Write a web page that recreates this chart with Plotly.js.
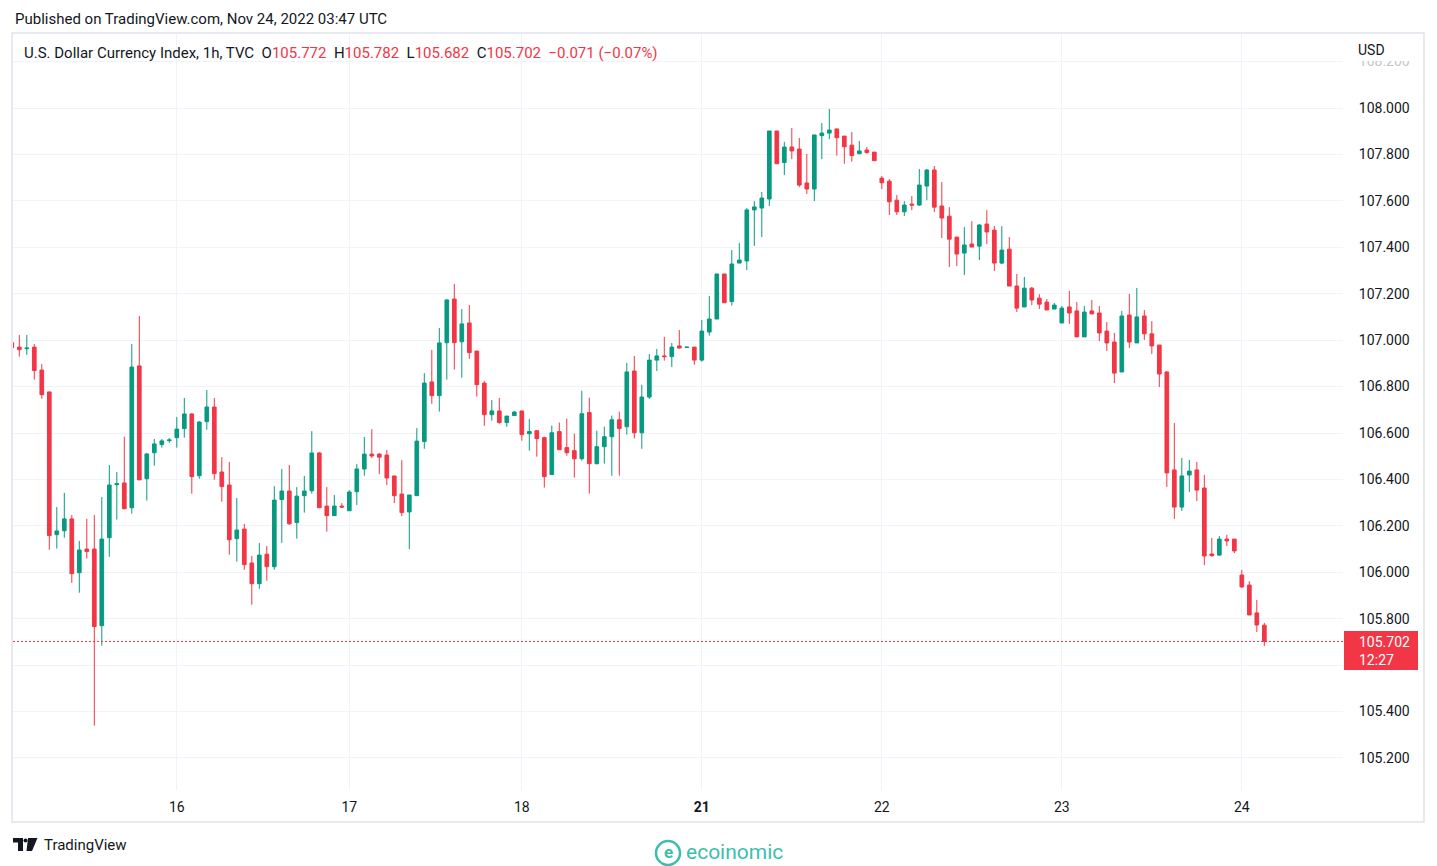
<!DOCTYPE html>
<html>
<head>
<meta charset="utf-8">
<script src="https://cdn.plot.ly/plotly-3.0.1.min.js"></script>
<style>
html,body{margin:0;padding:0;background:#ffffff;}
#chart{width:1437px;height:866px;}
</style>
</head>
<body>
<div id="chart"></div>
<script>
// ---- DATA (hourly bars, U.S. Dollar Currency Index, TVC, 1h) ----
const firstBar = -1;   // index of the first (partly hidden) bar
const openP = [
106.989,106.970,106.963,106.970,106.871,106.777,106.162,106.179,106.230,105.998,
106.100,106.100,105.770,106.149,106.377,106.385,106.278,106.889,106.403,106.515,
106.550,106.567,106.580,106.619,106.682,106.416,106.649,106.712,106.432,106.376,
106.145,106.186,106.040,105.951,106.078,106.024,106.313,106.350,106.214,106.330,
106.351,106.514,106.285,106.244,106.285,106.265,106.347,106.445,106.509,106.509,
106.505,106.415,106.337,106.260,106.330,106.563,106.820,106.761,106.989,107.177,
106.993,107.074,106.953,106.815,106.679,106.695,106.645,106.675,106.695,106.597,
106.610,106.580,106.421,106.606,106.537,106.524,106.489,106.688,106.468,106.541,
106.584,106.657,106.627,106.867,106.601,106.755,106.914,106.932,106.929,106.975,
106.968,106.970,106.914,107.035,107.091,107.285,107.166,107.332,107.341,107.561,
107.569,107.608,107.901,107.765,107.832,107.823,107.677,107.651,107.881,107.892,
107.910,107.879,107.840,107.803,107.819,107.810,107.698,107.685,107.603,107.553,
107.586,107.582,107.664,107.733,107.578,107.534,107.444,107.375,107.414,107.405,
107.500,107.474,107.332,107.392,107.233,107.143,107.224,107.181,107.164,107.134,
107.074,107.143,107.126,107.014,107.126,107.117,107.039,106.992,106.863,107.108,
106.988,107.104,107.027,106.979,106.863,106.441,106.281,106.419,106.441,106.363,
106.079,106.074,106.143,106.143,105.988,105.945,105.825,105.772
];
const highP = [
106.995,107.022,107.022,106.983,106.897,106.777,106.281,106.342,106.247,106.135,
106.230,106.247,106.324,106.462,106.432,106.584,106.983,107.104,106.512,106.574,
106.574,106.578,106.669,106.751,106.686,106.652,106.785,106.751,106.496,106.475,
106.320,106.208,106.070,106.126,106.113,106.371,106.445,106.462,106.367,106.415,
106.608,106.518,106.367,106.333,106.298,106.354,106.466,106.583,106.617,106.514,
106.527,106.415,106.483,106.333,106.621,106.858,106.958,107.052,107.177,107.242,
107.134,107.151,106.953,106.824,106.742,106.751,106.673,106.695,106.695,106.660,
106.610,106.584,106.632,106.645,106.662,106.597,106.782,106.752,106.610,106.627,
106.675,106.692,106.902,106.932,106.808,106.940,106.962,107.014,106.988,107.044,
106.971,106.970,107.087,107.190,107.285,107.285,107.388,107.418,107.569,107.599,
107.638,107.901,107.901,107.854,107.914,107.871,107.802,107.884,107.935,107.996,
107.910,107.879,107.897,107.858,107.832,107.810,107.707,107.694,107.625,107.599,
107.621,107.737,107.737,107.750,107.681,107.573,107.444,107.487,107.513,107.500,
107.560,107.491,107.491,107.444,107.285,107.272,107.229,107.198,107.177,107.160,
107.147,107.212,107.164,107.147,107.173,107.147,107.078,107.031,107.126,107.199,
107.225,107.130,107.082,106.979,106.867,106.643,106.492,106.484,106.475,106.419,
106.148,106.156,106.161,106.143,106.010,105.962,105.881,105.782
];
const lowP = [
106.962,106.929,106.937,106.830,106.748,106.097,106.102,106.149,105.954,105.912,
106.059,105.339,105.684,106.067,106.227,106.271,106.253,106.398,106.309,106.459,
106.537,106.558,106.537,106.580,106.339,106.403,106.614,106.399,106.304,106.076,
106.046,106.011,105.860,105.929,105.964,106.011,106.127,106.204,106.145,106.257,
106.339,106.278,106.175,106.244,106.277,106.265,106.290,106.416,106.492,106.423,
106.376,106.298,106.242,106.100,106.330,106.532,106.726,106.692,106.830,106.873,
106.838,106.920,106.757,106.631,106.653,106.640,106.627,106.675,106.567,106.524,
106.498,106.365,106.421,106.528,106.502,106.408,106.481,106.339,106.464,106.468,
106.416,106.416,106.593,106.576,106.532,106.746,106.867,106.912,106.884,106.963,
106.967,106.894,106.907,107.019,107.091,107.161,107.149,107.332,107.302,107.406,
107.444,107.578,107.760,107.711,107.780,107.660,107.630,107.599,107.780,107.866,
107.795,107.760,107.769,107.803,107.803,107.773,107.651,107.539,107.539,107.535,
107.560,107.578,107.603,107.552,107.440,107.315,107.319,107.280,107.401,107.345,
107.414,107.298,107.328,107.233,107.121,107.143,107.151,107.134,107.130,107.134,
107.074,107.070,107.014,107.014,107.113,106.996,106.953,106.815,106.863,106.966,
106.988,107.001,106.940,106.798,106.367,106.230,106.264,106.346,106.307,106.031,
106.066,106.070,106.113,106.083,105.932,105.816,105.743,105.682
];
const closeP = [
106.968,106.959,106.966,106.869,106.765,106.158,106.178,106.230,105.994,106.096,
106.089,105.766,106.143,106.376,106.382,106.274,106.884,106.398,106.510,106.553,
106.566,106.570,106.617,106.682,106.412,106.647,106.712,106.425,106.369,106.140,
106.182,106.033,105.951,106.074,106.024,106.311,106.350,106.209,106.328,106.350,
106.514,106.278,106.244,106.285,106.281,106.346,106.445,106.509,106.501,106.496,
106.406,106.330,106.257,106.333,106.565,106.815,106.761,106.988,107.173,106.989,
107.070,106.946,106.808,106.679,106.695,106.645,106.673,106.690,106.593,106.606,
106.576,106.412,106.601,106.528,106.515,106.489,106.683,106.468,106.541,106.584,
106.657,106.619,106.863,106.601,106.755,106.914,106.932,106.929,106.970,106.966,
106.970,106.914,107.039,107.091,107.285,107.161,107.328,107.345,107.561,107.574,
107.612,107.901,107.760,107.832,107.815,107.668,107.651,107.884,107.892,107.905,
107.872,107.833,107.795,107.815,107.808,107.773,107.678,107.596,107.553,107.582,
107.582,107.668,107.733,107.573,107.526,107.435,107.371,107.410,107.401,107.496,
107.466,107.332,107.388,107.233,107.138,107.224,107.173,107.155,107.130,107.151,
107.138,107.117,107.014,107.121,107.113,107.031,106.988,106.858,107.104,106.992,
107.100,107.027,106.975,106.854,106.428,106.281,106.415,106.436,106.354,106.070,
106.072,106.143,106.135,106.092,105.937,105.816,105.773,105.702
];
const dayTickBars = [21, 44, 67, 91, 115, 139, 163];
const dayTickLabels = ['16', '17', '18', '<b>21</b>', '22', '23', '24'];
const priceTicks = [105.2,105.4,105.6,105.8,106.0,106.2,106.4,106.6,106.8,107.0,107.2,107.4,107.6,107.8,108.0,108.2];
const symbolName = 'U.S. Dollar Currency Index, 1h, TVC';
const publishedText = 'Published on TradingView.com, Nov 24, 2022 03:47 UTC';
const currencyLabel = 'USD';
const countdownLabel = '12:27';

// ---- STYLE / LAYOUT ----
const W = 1437, H = 866;
const M = {l: 13, r: 94, t: 34, b: 76};
const PW = W - M.l - M.r, PH = H - M.t - M.b;
const px = x => (x - M.l) / PW;
const py = y => (H - M.b - y) / PH;
const UP = '#089981', DOWN = '#f23645', TXT = '#131722', GRID = '#f0f3fa';
const FONT = 'Roboto, "Open Sans", sans-serif';
const TEAL = '#3dbdb0';

const xs = openP.map((_, i) => firstBar + i);
const n = closeP.length;
const last = n - 1;
const chg = closeP[last] - closeP[last - 1];
const pct = chg / closeP[last - 1] * 100;
const fmt = v => v.toFixed(3);
const neg = s => s.replace('-', '\u2212');
const red = s => '<span style="color:' + DOWN + '">' + s + '</span>';
const sp = '\u00a0\u00a0';
const header = symbolName + sp +
  'O' + red(fmt(openP[last])) + sp +
  'H' + red(fmt(highP[last])) + sp +
  'L' + red(fmt(lowP[last])) + sp +
  'C' + red(fmt(closeP[last])) + sp +
  red(neg(chg.toFixed(3)) + ' (' + neg(pct.toFixed(2)) + '%)');

const tickText = priceTicks.map(v => v === 108.2
  ? '<span style="color:#c3c6ce">' + v.toFixed(3) + '</span>' : v.toFixed(3));

const trace = {
  type: 'candlestick',
  x: xs, open: openP, high: highP, low: lowP, close: closeP,
  increasing: {line: {color: UP, width: 1}, fillcolor: UP},
  decreasing: {line: {color: DOWN, width: 1}, fillcolor: DOWN},
  whiskerwidth: 0,
  hoverinfo: 'skip',
  showlegend: false
};

// TradingView logo (drawn with shapes)
const tvPath = 'M ' + px(28) + ' ' + py(838) + ' L ' + px(37.5) + ' ' + py(838) +
  ' L ' + px(32) + ' ' + py(851) + ' L ' + px(26.5) + ' ' + py(851) + ' Z';

const layout = {
  width: W, height: H,
  margin: M,
  paper_bgcolor: '#ffffff', plot_bgcolor: '#ffffff',
  font: {family: FONT, size: 14, color: TXT},
  showlegend: false,
  dragmode: false,
  xaxis: {
    range: [-0.84, 176.49],
    tickmode: 'array', tickvals: dayTickBars, ticktext: dayTickLabels,
    showgrid: true, gridcolor: GRID, gridwidth: 1,
    zeroline: false, showline: false,
    ticks: 'outside', ticklen: 4, tickcolor: 'rgba(0,0,0,0)',
    tickfont: {family: FONT, size: 14, color: TXT},
    rangeslider: {visible: false},
    fixedrange: true
  },
  yaxis: {
    range: [105.0621, 108.3188],
    side: 'right',
    tickmode: 'array', tickvals: priceTicks, ticktext: tickText,
    showgrid: true, gridcolor: GRID, gridwidth: 1,
    zeroline: false, showline: false,
    ticks: 'outside', ticklen: 12, tickcolor: 'rgba(0,0,0,0)',
    tickfont: {family: FONT, size: 14, color: TXT},
    fixedrange: true
  },
  shapes: [
    // white cover that hides the top half of the faded 108.200 label (under the USD label)
    {type: 'rect', xref: 'paper', yref: 'paper', x0: px(1345), x1: px(1423), y0: py(61), y1: py(34),
     line: {width: 0}, fillcolor: '#ffffff', layer: 'above'},
    {type: 'rect', xref: 'paper', yref: 'paper', x0: px(12), x1: px(1424), y0: py(822), y1: py(33),
     line: {color: '#e0e3eb', width: 1.5}, fillcolor: 'rgba(0,0,0,0)', layer: 'above'},
    {type: 'line', xref: 'paper', yref: 'y', x0: 0, x1: 1, y0: closeP[last], y1: closeP[last],
     line: {color: DOWN, width: 1, dash: '2px,2px'}, layer: 'above'},
    {type: 'rect', xref: 'paper', yref: 'paper', x0: px(1344), x1: px(1418), y0: py(670), y1: py(631),
     line: {width: 0}, fillcolor: DOWN, layer: 'above'},
    // TradingView logo
    {type: 'rect', xref: 'paper', yref: 'paper', x0: px(13), x1: px(23), y0: py(842.5), y1: py(838),
     line: {width: 0}, fillcolor: TXT},
    {type: 'rect', xref: 'paper', yref: 'paper', x0: px(18), x1: px(23), y0: py(851), y1: py(838),
     line: {width: 0}, fillcolor: TXT},
    {type: 'circle', xref: 'paper', yref: 'paper', x0: px(23.5), x1: px(27.5), y0: py(842.5), y1: py(838.5),
     line: {width: 0}, fillcolor: TXT},
    {type: 'path', xref: 'paper', yref: 'paper', path: tvPath, line: {width: 0}, fillcolor: TXT},
    // ecoinomic icon
    {type: 'circle', xref: 'paper', yref: 'paper', x0: px(656), x1: px(680), y0: py(865), y1: py(841),
     line: {color: TEAL, width: 2.5}, fillcolor: 'rgba(0,0,0,0)'}
  ],
  annotations: [
    {xref: 'paper', yref: 'paper', x: px(13), y: py(19), xanchor: 'left', yanchor: 'middle',
     text: publishedText, showarrow: false, font: {family: FONT, size: 15, color: TXT}},
    {xref: 'paper', yref: 'paper', x: px(22), y: py(53), xanchor: 'left', yanchor: 'middle',
     text: header, showarrow: false, font: {family: FONT, size: 15, color: TXT}},
    {xref: 'paper', yref: 'paper', x: px(1356), y: py(50), xanchor: 'left', yanchor: 'middle',
     text: currencyLabel, showarrow: false, font: {family: FONT, size: 14, color: TXT}},
    {xref: 'paper', yref: 'paper', x: px(1357), y: py(650.5), xanchor: 'left', yanchor: 'middle',
     text: fmt(closeP[last]) + '<br>' + countdownLabel, align: 'left', showarrow: false,
     font: {family: FONT, size: 14, color: '#ffffff'}},
    {xref: 'paper', yref: 'paper', x: px(42), y: py(845), xanchor: 'left', yanchor: 'middle',
     text: 'TradingView', showarrow: false, font: {family: FONT, size: 15, color: TXT}},
    {xref: 'paper', yref: 'paper', x: px(668), y: py(852), xanchor: 'center', yanchor: 'middle',
     text: '<b>e</b>', showarrow: false, font: {family: FONT, size: 17, color: TEAL}},
    {xref: 'paper', yref: 'paper', x: px(684), y: py(852), xanchor: 'left', yanchor: 'middle',
     text: 'ecoinomic', showarrow: false, font: {family: FONT, size: 21, color: TEAL}}
  ]
};

Plotly.newPlot('chart', [trace], layout, {displayModeBar: false, staticPlot: true});
</script>
</body>
</html>
